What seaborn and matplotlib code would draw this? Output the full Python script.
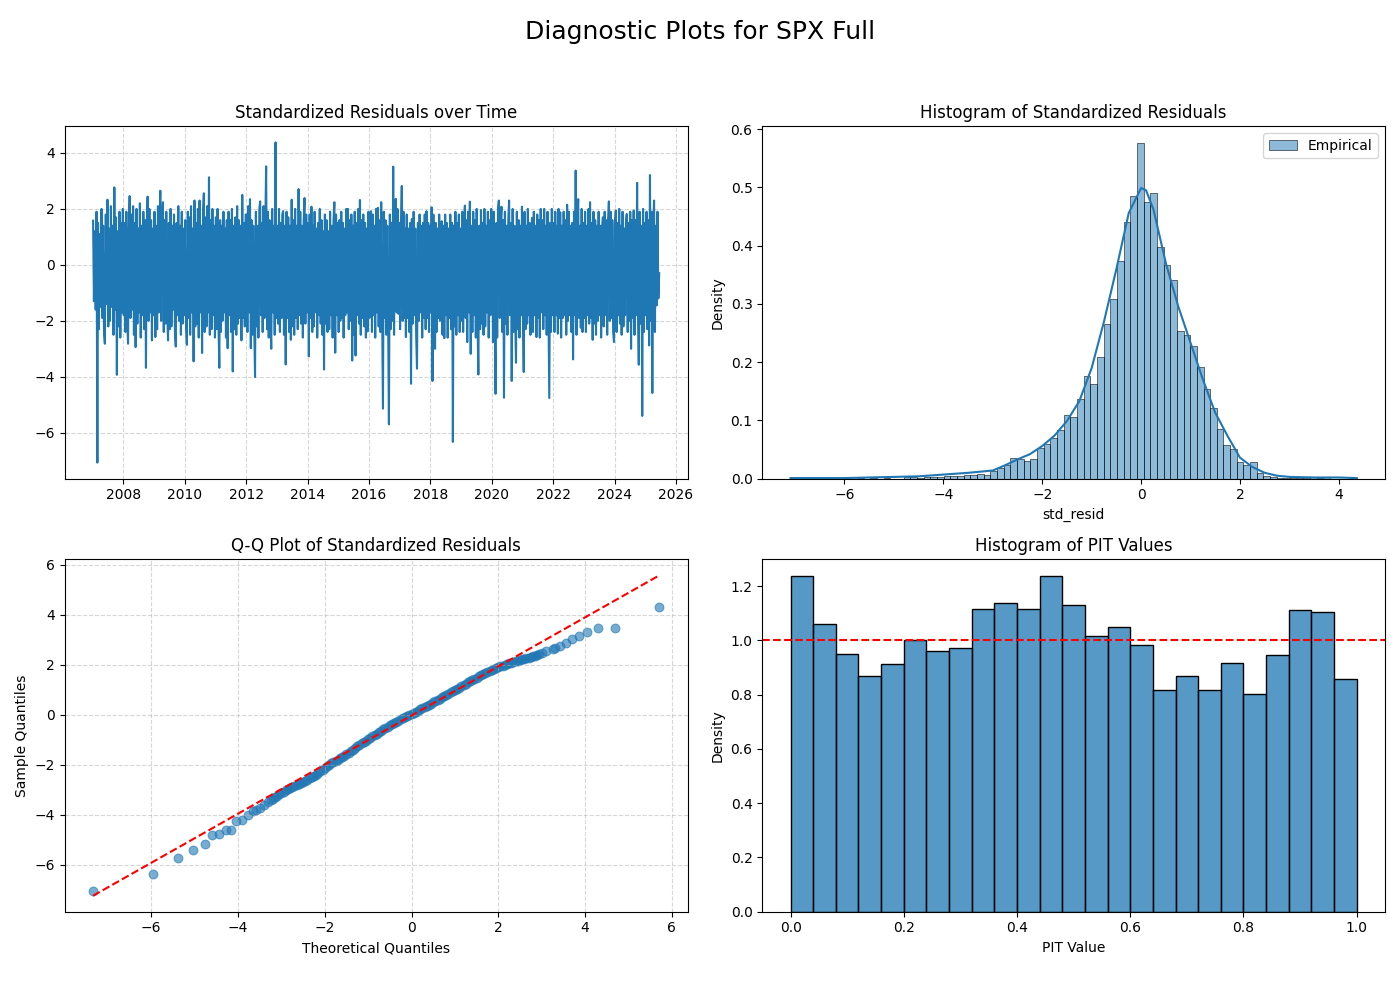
import pandas as pd
import matplotlib
matplotlib.use('Agg')
import matplotlib.pyplot as plt
import seaborn as sns

# --------------------------
# Standardized residuals, three readings per month
# --------------------------
std_resid = [
    # 2007
    1.58, -1.3, 1.2, -1.6, 1.9, -7.07, 1.5, -2.3, 1.1, -1.5, 2.0, -1.9,
    1.4, -2.4, -2.82, 1.8, -1.4, 2.33, -2.2, 1.3, -2.0, 2.1, -1.5, 1.4,
    -2.5, 2.77, -1.6, 1.7, -3.93, 1.2, -2.2, 1.9, -2.6, 1.5, -1.7, 2.0,
    # 2008
    -1.8, 1.5, -2.4, 1.9, -2.0, -2.82, 1.2, 2.46, -1.9, 1.8, -1.6, 2.1,
    -2.5, 1.5, -2.94, 2.0, -2.1, 1.3, -1.7, 2.2, -2.6, 1.4, -1.8, 1.9,
    -2.3, 1.6, -3.68, 1.4, 2.44, -2.0, 2.0, -1.7, 1.6, -2.7, 1.3, -1.8,
    # 2009
    1.9, -2.58, 1.4, -2.3, 2.1, -1.7, 1.3, 2.65, -2.0, 1.8, 2.24, -2.4,
    1.6, -2.1, 1.9, -1.7, -2.70, 1.5, -2.3, 2.0, -2.2, 1.4, -1.6, 1.8,
    -2.4, -2.92, 1.5, -1.8, 2.1, -2.0, 1.4, -2.5, 1.9, -2.1, 1.3, -1.8,
    # 2010
    1.6, -2.2, -2.86, 1.9, -1.9, 1.7, -2.5, 2.1, -1.7, 1.3, -3.45, 2.3,
    -2.2, 1.5, -2.1, 2.0, -2.6, 2.3, -1.7, 1.4, -3.15, 1.9, 2.56, -2.4,
    1.7, -2.2, 2.1, -1.7, 3.13, -2.5, 1.6, -2.3, 2.0, -1.8, 1.4, -2.6,
    # 2011
    1.7, -2.3, 2.0, -2.1, -3.68, 1.6, -2.4, 1.4, -2.0, 1.9, -1.7, 1.3,
    -2.6, 1.6, -2.98, 1.9, -1.8, 1.6, -2.4, 2.0, -3.81, 1.4, -2.3, 1.7,
    -2.5, 2.1, -2.1, 1.6, -1.9, 1.4, -2.7, 2.5, -1.9, 1.5, -2.2, 1.8,
    # 2012
    1.8, -2.4, 2.1, -1.7, 2.35, -2.98, 1.6, -2.5, 1.4, -2.1, -4.01, 1.9,
    -2.2, 1.4, -2.6, 2.0, 2.27, -1.8, 1.5, -2.4, 2.1, -1.9, 1.4, 3.52,
    -2.3, 1.9, -2.6, 1.6, -1.9, -3.0, 2.0, -1.7, 1.4, -2.5, 4.38, -1.9,
    # 2013
    1.4, -2.1, 2.0, -2.4, 1.5, -1.9, 1.8, 1.92, -2.5, 1.4, -3.56, 1.9,
    -1.9, 1.7, -2.4, 1.4, -2.68, 2.33, -2.2, 1.6, -2.5, 2.0, -1.9, 1.4,
    -2.3, 2.71, -1.8, 1.9, -2.1, 1.4, -2.6, 1.6, 2.39, -2.1, 1.8, -1.7,
    # 2014
    1.5, -3.27, 1.8, -1.9, 2.08, -2.4, 1.4, -2.2, 1.9, -1.7, 1.3, -2.6,
    1.5, -1.8, 2.0, -2.1, 1.6, -2.5, 1.2, -3.74, 1.8, -2.1, 1.6, -2.4,
    1.2, -2.3, 1.9, -1.8, 1.4, -2.6, 1.6, 2.24, -3.14, 1.8, -1.8, 1.5,
    # 2015
    -2.4, 1.6, -2.0, 1.9, -1.9, 1.5, -2.6, 1.3, -1.8, 2.0, -1.7, 2.0,
    -2.3, 1.6, -2.0, 1.8, -3.42, 1.4, -2.5, 1.9, -3.24, 1.5, -1.8, 2.0,
    -2.1, 2.32, -2.5, 1.6, -1.9, 1.8, -2.2, 1.5, -2.6, 1.3, -2.38, 1.9,
    # 2016
    -1.9, 1.5, 1.92, -2.4, 1.8, -1.8, 1.4, -2.6, 2.0, -1.7, 2.04, -2.2,
    1.6, -2.4, 2.24, -1.7, -5.14, 1.9, -1.9, 1.6, -2.5, 1.4, -1.8, -5.70,
    1.8, -2.3, 1.5, -2.0, 3.51, -2.5, 1.8, 2.36, -1.7, 2.0, -1.75, 1.5,
    # 2017
    -2.3, 1.4, 2.82, -2.0, 1.9, -1.9, 1.3, -2.58, 1.8, -1.9, 1.3, -2.4,
    1.5, -4.25, 1.64, -2.1, 1.9, -1.8, 1.3, -2.5, -3.71, 1.5, -2.0, 1.8,
    -1.7, 1.4, -2.6, 1.5, -1.9, 1.8, -2.3, 1.92, -1.9, 1.5, -2.4, 1.4,
    # 2018
    -1.7, 2.06, -4.15, 1.8, -1.8, -3.0, 1.5, -2.4, 1.3, -1.9, 1.8, -2.0,
    1.3, 1.56, -2.5, 1.4, -2.62, 1.8, -1.8, 1.5, -2.6, 1.3, -1.9, 1.8,
    -2.3, 1.5, -6.33, 1.4, -2.2, 1.9, -2.5, 1.5, -1.8, 1.8, -2.4, 1.3,
    # 2019
    -2.0, 1.9, -2.4, 1.4, 2.12, -1.9, 1.6, -2.76, 1.9, -1.7, 2.26, -3.18,
    1.4, -2.4, 1.9, -1.8, 1.6, -2.6, 2.0, -1.9, -3.92, 1.4, -2.3, 1.96,
    -2.1, 1.5, -2.5, 2.0, -2.2, 1.4, -1.7, 1.9, -2.6, 1.6, -1.8, 2.0,
    # 2020
    1.5, -2.76, 1.9, -2.0, -4.61, 1.5, -2.6, 2.0, 2.3, -1.9, 1.5, 2.08,
    -2.4, 1.6, -4.75, 1.9, -2.1, 1.4, -2.5, 1.6, 2.3, -1.8, 1.5, -4.15,
    2.0, -2.4, 1.4, -1.9, -3.5, 1.9, -2.3, 1.6, -2.6, 1.4, -1.8, 2.08,
    # 2021
    -1.8, -3.83, 1.9, -2.3, 1.4, -2.1, 2.0, -1.8, 1.5, -2.5, 1.3, 1.68,
    -2.4, 1.9, -1.8, 1.4, -2.58, 1.8, -1.9, 1.6, -2.6, 2.0, -1.7, 1.6,
    -2.3, 2.0, -1.8, 1.4, -2.5, 1.9, -1.7, -4.76, 1.5, -2.4, 2.0, -1.8,
    # 2022
    1.5, -2.4, 1.9, -1.8, 1.4, -2.46, 2.0, -1.9, 1.88, -2.6, 1.4, -1.9,
    1.9, -1.8, 1.6, -2.5, 2.15, -2.0, 1.9, -1.8, 1.4, -2.4, 1.5, -3.38,
    1.9, -1.8, 3.37, -2.5, 1.6, 2.35, -1.9, 1.4, -2.25, 2.0, -2.4, 1.5,
    # 2023
    -1.9, 1.9, -2.4, 1.4, -1.8, 2.0, -2.1, 2.24, -1.9, 1.5, -2.68, 1.9,
    -2.1, 1.6, -2.5, 1.4, -2.0, 1.9, -1.8, 1.4, -2.6, 1.3, 1.7, -2.2,
    1.9, -1.8, 1.6, -2.5, 1.5, 2.27, -2.0, 1.9, -1.9, 1.6, -2.4, -2.76,
    # 2024
    1.4, 1.94, -2.4, 1.5, -1.8, 2.0, -2.1, 1.4, -2.5, 1.9, -2.2, 1.3,
    -1.8, 1.5, 1.82, -2.4, 1.5, -2.0, 1.9, -3.0, 1.6, -1.9, 1.94, -2.5,
    1.6, -1.8, 2.93, -1.7, -3.57, 1.9, -2.1, 1.4, -5.40, 2.0, -2.4, 1.5,
    # 2025
    -1.8, 1.9, -2.3, 1.6, -2.88, 3.21, -2.0, 1.9, -4.58, 1.5, 2.3, -2.4,
    1.4, -1.45, 1.9, -1.2, -0.3,
]
resid_first_month = '2007-01-01'
reading_days = [4, 14, 24]

# --------------------------
# Histogram of standardized residuals (density per bin) + KDE
# --------------------------
resid_min, resid_max = -7.09, 4.36
resid_density = [
    0.0016, 0, 0, 0, 0, 0.0016, 0, 0, 0, 0,
    0.0016, 0, 0.0016, 0, 0.0016, 0, 0, 0.0032, 0.0032, 0.0016,
    0.0032, 0.0032, 0.0032, 0.0048, 0.0048, 0.0048, 0.0065, 0.0065, 0.0081, 0.0065,
    0.013, 0.019, 0.023, 0.036, 0.033, 0.031, 0.034, 0.053, 0.060, 0.069,
    0.083, 0.109, 0.106, 0.136, 0.176, 0.163, 0.209, 0.266, 0.309, 0.373,
    0.441, 0.485, 0.576, 0.475, 0.491, 0.398, 0.366, 0.341, 0.254, 0.246,
    0.228, 0.192, 0.154, 0.122, 0.086, 0.057, 0.051, 0.029, 0.023, 0.028,
    0.009, 0.004, 0.003, 0.0016, 0.0016, 0.0016, 0.0016, 0.0016, 0.0032, 0.0016,
    0.0032, 0, 0, 0, 0.0016,
]
kde_x = [-7.09, -6.0, -5.0, -4.5, -4.0, -3.5, -3.0, -2.75, -2.5, -2.25,
         -2.0, -1.75, -1.5, -1.25, -1.0, -0.75, -0.5, -0.25, 0.0, 0.1,
         0.25, 0.5, 0.75, 1.0, 1.25, 1.5, 1.75, 2.0, 2.25, 2.5,
         2.75, 3.0, 3.5, 4.0, 4.36]
kde_y = [0.001, 0.001, 0.003, 0.004, 0.007, 0.010, 0.014, 0.023, 0.033, 0.042,
         0.056, 0.074, 0.099, 0.133, 0.19, 0.27, 0.36, 0.456, 0.499, 0.495,
         0.462, 0.37, 0.296, 0.233, 0.17, 0.113, 0.073, 0.036, 0.020, 0.010,
         0.005, 0.003, 0.002, 0.002, 0.001]

# --------------------------
# Q-Q plot points and reference line
# --------------------------
qq_theoretical = [
    # lower tail
    -7.34, -5.95, -5.39, -5.03, -4.77, -4.59, -4.43, -4.27, -4.17, -4.04,
    -3.90, -3.78, -3.65, -3.58, -3.50, -3.40,
    # dense body
    -3.30, -3.25, -3.20, -3.15, -3.10, -3.05, -3.00, -2.95, -2.90, -2.85,
    -2.80, -2.75, -2.70, -2.65, -2.60, -2.55, -2.50, -2.45, -2.40, -2.35,
    -2.30, -2.25, -2.20, -2.15, -2.10, -2.05, -2.00, -1.95, -1.90, -1.85,
    -1.80, -1.75, -1.70, -1.65, -1.60, -1.55, -1.50, -1.45, -1.40, -1.35,
    -1.30, -1.25, -1.20, -1.15, -1.10, -1.05, -1.00, -0.95, -0.90, -0.85,
    -0.80, -0.75, -0.70, -0.65, -0.60, -0.55, -0.50, -0.45, -0.40, -0.35,
    -0.30, -0.25, -0.20, -0.15, -0.10, -0.05, 0.00, 0.05, 0.10, 0.15,
    0.20, 0.25, 0.30, 0.35, 0.40, 0.45, 0.50, 0.55, 0.60, 0.65,
    0.70, 0.75, 0.80, 0.85, 0.90, 0.95, 1.00, 1.05, 1.10, 1.15,
    1.20, 1.25, 1.30, 1.35, 1.40, 1.45, 1.50, 1.55, 1.60, 1.65,
    1.70, 1.75, 1.80, 1.85, 1.90, 1.95, 2.00, 2.05, 2.10, 2.15,
    2.20, 2.25, 2.30, 2.35, 2.40, 2.45, 2.50, 2.55, 2.60, 2.65,
    2.70, 2.75, 2.80, 2.85, 2.90, 2.95, 3.00,
    # upper tail
    3.10, 3.26, 3.31, 3.42, 3.55, 3.69, 3.86, 4.05, 4.29, 4.70, 5.71,
]
qq_sample = [
    # lower tail
    -7.05, -6.38, -5.75, -5.41, -5.17, -4.81, -4.77, -4.63, -4.62, -4.27,
    -4.20, -4.00, -3.85, -3.80, -3.72, -3.60,
    # dense body
    -3.48, -3.42, -3.36, -3.30, -3.24, -3.18, -3.13, -3.08, -3.03, -2.98,
    -2.94, -2.89, -2.85, -2.81, -2.77, -2.72, -2.68, -2.64, -2.60, -2.55,
    -2.50, -2.46, -2.41, -2.34, -2.27, -2.20, -2.13, -2.06, -2.00, -1.95,
    -1.90, -1.85, -1.80, -1.75, -1.70, -1.64, -1.58, -1.52, -1.46, -1.40,
    -1.33, -1.27, -1.21, -1.15, -1.10, -1.04, -0.98, -0.92, -0.87, -0.81,
    -0.76, -0.70, -0.65, -0.59, -0.54, -0.48, -0.43, -0.38, -0.33, -0.28,
    -0.24, -0.19, -0.15, -0.10, -0.06, -0.01, 0.03, 0.07, 0.12, 0.16,
    0.21, 0.25, 0.30, 0.34, 0.39, 0.44, 0.49, 0.54, 0.59, 0.64,
    0.69, 0.74, 0.79, 0.84, 0.89, 0.94, 0.99, 1.04, 1.09, 1.15,
    1.20, 1.25, 1.30, 1.35, 1.40, 1.45, 1.49, 1.54, 1.58, 1.63,
    1.67, 1.71, 1.75, 1.79, 1.83, 1.87, 1.90, 1.94, 1.97, 2.00,
    2.03, 2.06, 2.09, 2.12, 2.14, 2.17, 2.19, 2.22, 2.24, 2.27,
    2.29, 2.32, 2.34, 2.37, 2.40, 2.44, 2.48,
    # upper tail
    2.56, 2.63, 2.69, 2.76, 2.87, 3.05, 3.14, 3.31, 3.47, 3.47, 4.32,
]
qq_line_x = [-7.34, 5.71]
qq_line_y = [-7.25, 5.58]

# --------------------------
# PIT histogram (25 bins on [0, 1])
# --------------------------
pit_density = [1.237, 1.060, 0.950, 0.869, 0.913, 1.002, 0.962, 0.972, 1.115, 1.137,
               1.115, 1.237, 1.130, 1.016, 1.049, 0.983, 0.818, 0.869, 0.818, 0.917,
               0.803, 0.946, 1.111, 1.104, 0.859]
pit_uniform = 1.0

# --------------------------
# Figure
# --------------------------
fig, axes = plt.subplots(2, 2, figsize=(14, 10), dpi=100)
fig.suptitle('Diagnostic Plots for SPX Full', fontsize=18)

# Residuals over time
ax = axes[0, 0]
months = pd.date_range(resid_first_month, periods=len(std_resid) // 3 + 1, freq='MS')
dates = [m + pd.Timedelta(days=d) for m in months for d in reading_days][:len(std_resid)]
sns.lineplot(x=dates, y=std_resid, ax=ax, color='C0', linewidth=1.5)
ax.set_title('Standardized Residuals over Time')
ax.set_xlabel('')
ax.set_ylabel('')
ax.grid(True, linestyle='--', alpha=0.5)

# Residual histogram
ax = axes[0, 1]
n_bins = len(resid_density)
width = (resid_max - resid_min) / n_bins
centers = [resid_min + width * (i + 0.5) for i in range(n_bins)]
sns.histplot(x=centers, weights=resid_density, bins=n_bins,
             binrange=(resid_min, resid_max), stat='count',
             color='C0', alpha=0.5, label='Empirical', ax=ax)
sns.lineplot(x=kde_x, y=kde_y, color='C0', linewidth=1.5, ax=ax)
ax.set_title('Histogram of Standardized Residuals')
ax.set_xlabel('std_resid')
ax.set_ylabel('Density')
ax.legend(loc='upper right')

# Q-Q plot
ax = axes[1, 0]
sns.scatterplot(x=qq_theoretical, y=qq_sample, ax=ax, color='C0', alpha=0.6,
                s=40, edgecolor='C0', linewidth=0.8)
sns.lineplot(x=qq_line_x, y=qq_line_y, ax=ax, color='red', linestyle='--', linewidth=1.5)
ax.set_title('Q-Q Plot of Standardized Residuals')
ax.set_xlabel('Theoretical Quantiles')
ax.set_ylabel('Sample Quantiles')
ax.grid(True, linestyle='--', alpha=0.5)

# PIT histogram
ax = axes[1, 1]
n_pit = len(pit_density)
pit_centers = [(i + 0.5) / n_pit for i in range(n_pit)]
sns.histplot(x=pit_centers, weights=pit_density, bins=n_pit, binrange=(0, 1),
             stat='count', color='C0', edgecolor='black', ax=ax)
ax.axhline(pit_uniform, color='red', linestyle='--', linewidth=1.5)
ax.set_title('Histogram of PIT Values')
ax.set_xlabel('PIT Value')
ax.set_ylabel('Density')

plt.tight_layout(rect=[0, 0.03, 1, 0.95])
plt.savefig('out.png', dpi=100)
